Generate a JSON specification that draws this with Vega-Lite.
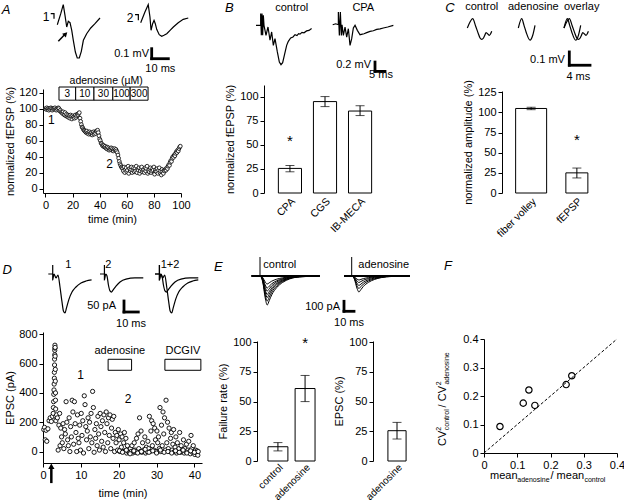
{
"$schema":"https://vega.github.io/schema/vega-lite/v6.json",
"padding":0,
"background":"white",
"bounds":"flush",
"spacing":0,
"config":{
 "font":"Liberation Sans",
 "view":{"stroke":null},
 "concat":{"spacing":0},
 "axis":{"domainColor":"black","tickColor":"black","labelColor":"black","titleColor":"black","labelFontSize":11,"titleFontSize":11,"titleFontWeight":"normal","grid":false,"tickSize":4,"labelPadding":2,"labelOverlap":false,"labelFlush":false},
 "text":{"color":"black","fontSize":11},
 "line":{"color":"black"},
 "rule":{"color":"black"},
 "tick":{"color":"black"}
},
"datasets":{
 "a":[{"t":0,"v":100},{"t":0.5,"v":99},{"t":1,"v":101},{"t":1.5,"v":99},{"t":2,"v":100},{"t":2.5,"v":98},{"t":3,"v":100},{"t":3.5,"v":99},{"t":4,"v":101},{"t":4.5,"v":100},{"t":5,"v":98},{"t":5.5,"v":100},{"t":6,"v":99},{"t":6.5,"v":100},{"t":7,"v":101},{"t":7.5,"v":99},{"t":8,"v":98},{"t":8.5,"v":100},{"t":9,"v":99},{"t":9.5,"v":101},
 {"t":10,"v":100},{"t":10.5,"v":97},{"t":11,"v":98},{"t":11.5,"v":96},{"t":12,"v":95},
 {"t":12.5,"v":94},{"t":13,"v":96},{"t":13.5,"v":93},{"t":14,"v":92},{"t":14.5,"v":95},{"t":15,"v":91},{"t":15.5,"v":93},{"t":16,"v":90},{"t":16.5,"v":92},{"t":17,"v":89},{"t":17.5,"v":91},{"t":18,"v":88},{"t":18.5,"v":92},{"t":19,"v":90},{"t":19.5,"v":87},{"t":20,"v":91},{"t":20.5,"v":89},{"t":21,"v":90},{"t":21.5,"v":88},{"t":22,"v":92},{"t":22.5,"v":89},{"t":23,"v":91},{"t":23.5,"v":93},{"t":24,"v":92},{"t":24.5,"v":94},
 {"t":25,"v":95},{"t":25.5,"v":88},{"t":26,"v":84},{"t":26.5,"v":80},{"t":27,"v":77},{"t":27.5,"v":76},{"t":28,"v":74},{"t":28.5,"v":73},{"t":29,"v":72},
 {"t":29.5,"v":71},{"t":30,"v":70},{"t":30.5,"v":72},{"t":31,"v":69},{"t":31.5,"v":70},{"t":32,"v":68},{"t":32.5,"v":71},{"t":33,"v":69},{"t":33.5,"v":68},{"t":34,"v":70},{"t":34.5,"v":67},{"t":35,"v":69},{"t":35.5,"v":71},{"t":36,"v":68},{"t":36.5,"v":70},{"t":37,"v":69},{"t":37.5,"v":72},{"t":38,"v":71},
 {"t":38.5,"v":73},{"t":39,"v":70},{"t":39.5,"v":66},{"t":40,"v":62},
 {"t":40.5,"v":60},{"t":41,"v":57},{"t":41.5,"v":56},{"t":42,"v":54},{"t":42.5,"v":53},{"t":43,"v":54},{"t":43.5,"v":52},{"t":44,"v":53},{"t":44.5,"v":51},
 {"t":45,"v":50},{"t":45.5,"v":52},{"t":46,"v":49},{"t":46.5,"v":51},{"t":47,"v":48},{"t":47.5,"v":50},{"t":48,"v":49},{"t":48.5,"v":51},{"t":49,"v":48},{"t":49.5,"v":50},{"t":50,"v":47},{"t":50.5,"v":49},{"t":51,"v":50},{"t":51.5,"v":48},{"t":52,"v":49},{"t":52.5,"v":47},
 {"t":53,"v":45},{"t":53.5,"v":42},{"t":54,"v":38},{"t":54.5,"v":34},{"t":55,"v":31},{"t":55.5,"v":29},{"t":56,"v":27},{"t":56.5,"v":26},
 {"t":57,"v":25},{"t":57.5,"v":22},{"t":58,"v":27},{"t":58.5,"v":20},{"t":59,"v":24},{"t":59.5,"v":26},{"t":60,"v":21},{"t":60.5,"v":23},{"t":61,"v":28},{"t":61.5,"v":19},
 {"t":62,"v":25},{"t":62.5,"v":22},{"t":63,"v":24},{"t":63.5,"v":27},{"t":64,"v":20},{"t":64.5,"v":23},{"t":65,"v":26},{"t":65.5,"v":21},{"t":66,"v":25},{"t":66.5,"v":22},
 {"t":67,"v":28},{"t":67.5,"v":20},{"t":68,"v":24},{"t":68.5,"v":23},{"t":69,"v":26},{"t":69.5,"v":19},{"t":70,"v":22},{"t":70.5,"v":25},{"t":71,"v":27},{"t":71.5,"v":21},
 {"t":72,"v":23},{"t":72.5,"v":24},{"t":73,"v":20},{"t":73.5,"v":26},{"t":74,"v":22},{"t":74.5,"v":25},{"t":75,"v":28},{"t":75.5,"v":19},{"t":76,"v":23},{"t":76.5,"v":21},
 {"t":77,"v":24},{"t":77.5,"v":26},{"t":78,"v":20},{"t":78.5,"v":22},{"t":79,"v":25},{"t":79.5,"v":23},{"t":80,"v":27},{"t":80.5,"v":18},{"t":81,"v":22},{"t":81.5,"v":24},
 {"t":82,"v":21},{"t":82.5,"v":25},{"t":83,"v":19},{"t":83.5,"v":23},{"t":84,"v":26},{"t":84.5,"v":20},{"t":85,"v":22},{"t":85.5,"v":17},{"t":86,"v":24},{"t":86.5,"v":21},
 {"t":87,"v":19},{"t":87.5,"v":23},{"t":88,"v":22},
 {"t":88.5,"v":24},{"t":89,"v":23},{"t":89.5,"v":26},{"t":90,"v":25},{"t":90.5,"v":28},{"t":91,"v":30},{"t":91.5,"v":29},{"t":92,"v":33},{"t":92.5,"v":35},{"t":93,"v":34},{"t":93.5,"v":38},{"t":94,"v":40},{"t":94.5,"v":39},{"t":95,"v":42},{"t":95.5,"v":41},{"t":96,"v":44},{"t":96.5,"v":46},{"t":97,"v":45},{"t":97.5,"v":48},{"t":98,"v":47},{"t":98.5,"v":50},{"t":99,"v":52},{"t":99.5,"v":53}],
 "aBox":[{"c":"3","s":10,"e":22.3},{"c":"10","s":22.3,"e":35.8},{"c":"30","s":35.8,"e":49.7},{"c":"100","s":49.7,"e":62.5},{"c":"300","s":62.5,"e":75.7}],
 "b":[{"d":"CPA","m":25.5,"lo":22,"hi":28.5},{"d":"CGS","m":94.8,"lo":89.6,"hi":100},{"d":"IB-MECA","m":85,"lo":80.3,"hi":90.5}],
 "c":[{"d":"fiber volley","m":105,"lo":103.5,"hi":106.5},{"d":"fEPSP","m":25,"lo":18.7,"hi":31}],
 "d":[{"t":0.2,"v":150},{"t":0.4,"v":165},{"t":0.6,"v":80},{"t":0.8,"v":145},{"t":1.0,"v":70},{"t":1.3,"v":155},{"t":1.6,"v":210},{"t":1.9,"v":230},{"t":2.2,"v":205},{"t":2.5,"v":240},
 {"t":2.7,"v":260},{"t":2.75,"v":300},{"t":2.8,"v":340},{"t":2.85,"v":390},{"t":2.9,"v":420},{"t":2.95,"v":460},{"t":3.0,"v":500},{"t":3.0,"v":540},{"t":3.05,"v":590},{"t":3.05,"v":630},{"t":3.1,"v":660},{"t":3.1,"v":690},{"t":3.15,"v":705},{"t":3.15,"v":725},{"t":3.2,"v":710},{"t":3.2,"v":650},{"t":3.25,"v":560},{"t":3.25,"v":480},{"t":3.3,"v":400},{"t":3.3,"v":350},{"t":3.35,"v":290},{"t":3.35,"v":240},{"t":3.4,"v":210},
 {"t":3.6,"v":250},{"t":3.8,"v":230},{"t":4.0,"v":10},{"t":4.2,"v":180},{"t":4.4,"v":260},{"t":4.5,"v":40},{"t":4.7,"v":160},{"t":4.9,"v":100},{"t":5.1,"v":60},{"t":5.3,"v":190},{"t":5.5,"v":20},{"t":5.7,"v":150},{"t":5.9,"v":120},{"t":6.1,"v":340},{"t":6.3,"v":200},{"t":6.5,"v":80},{"t":6.7,"v":40},{"t":6.9,"v":230},{"t":7.1,"v":0},{"t":7.3,"v":170},{"t":7.5,"v":100},{"t":7.7,"v":350},{"t":7.9,"v":270},{"t":8.1,"v":50},{"t":8.3,"v":340},{"t":8.5,"v":190},{"t":8.7,"v":130},{"t":8.9,"v":0},{"t":9.1,"v":250},{"t":9.3,"v":90},{"t":9.5,"v":60},{"t":9.7,"v":180},{"t":9.9,"v":10},{"t":10.1,"v":260},{"t":10.3,"v":110},{"t":10.5,"v":210},{"t":10.7,"v":-10},{"t":10.9,"v":380},{"t":11.1,"v":320},{"t":11.3,"v":170},{"t":11.5,"v":80},{"t":11.7,"v":140},{"t":11.9,"v":230},{"t":12.1,"v":20},{"t":12.3,"v":200},{"t":12.5,"v":100},{"t":12.7,"v":260},{"t":12.9,"v":60},{"t":13.1,"v":410},{"t":13.3,"v":300},{"t":13.5,"v":-5},{"t":13.7,"v":150},{"t":13.9,"v":90},{"t":14.1,"v":190},{"t":14.3,"v":40},{"t":14.5,"v":240},{"t":14.7,"v":120},{"t":14.9,"v":10},{"t":15.1,"v":260},{"t":15.3,"v":170},{"t":15.5,"v":70},{"t":15.7,"v":210},{"t":15.9,"v":30},{"t":16.1,"v":250},{"t":16.3,"v":130},{"t":16.5,"v":0},{"t":16.7,"v":270},{"t":16.9,"v":190},{"t":17.1,"v":60},{"t":17.3,"v":230},{"t":17.5,"v":110},{"t":17.7,"v":250},{"t":17.9,"v":20},{"t":18.1,"v":160},{"t":18.3,"v":220},{"t":18.5,"v":90},{"t":18.7,"v":240},{"t":18.9,"v":0},{"t":19.1,"v":130},{"t":19.3,"v":60},{"t":19.5,"v":110},{"t":19.7,"v":10},{"t":19.9,"v":150},{"t":20.1,"v":80},{"t":20.3,"v":0},{"t":20.5,"v":120},{"t":20.7,"v":30},{"t":20.9,"v":100},{"t":21.1,"v":0},{"t":21.3,"v":60},{"t":21.5,"v":130},{"t":21.7,"v":5},{"t":21.9,"v":90},{"t":22.1,"v":-10},{"t":22.3,"v":40},{"t":22.5,"v":0},{"t":22.7,"v":10},{"t":22.9,"v":-5},{"t":23.1,"v":20},{"t":23.3,"v":0},{"t":23.5,"v":40},{"t":23.7,"v":-10},{"t":23.9,"v":0},{"t":24.1,"v":60},{"t":24.3,"v":10},{"t":24.5,"v":-5},{"t":24.7,"v":90},{"t":24.9,"v":0},{"t":25.1,"v":120},{"t":25.3,"v":20},{"t":25.5,"v":230},{"t":25.7,"v":0},{"t":25.9,"v":140},{"t":26.1,"v":-5},{"t":26.3,"v":60},{"t":26.5,"v":10},{"t":26.7,"v":0},{"t":26.9,"v":100},{"t":27.1,"v":-10},{"t":27.3,"v":30},{"t":27.5,"v":0},{"t":27.7,"v":70},{"t":27.9,"v":20},{"t":28.1,"v":240},{"t":28.3,"v":0},{"t":28.5,"v":140},{"t":28.7,"v":210},{"t":28.9,"v":40},{"t":29.1,"v":190},{"t":29.3,"v":10},{"t":29.5,"v":160},{"t":29.7,"v":80},{"t":29.9,"v":0},{"t":30.1,"v":140},{"t":30.3,"v":60},{"t":30.5,"v":100},{"t":30.7,"v":20},{"t":30.9,"v":300},{"t":31.1,"v":0},{"t":31.3,"v":180},{"t":31.5,"v":40},{"t":31.7,"v":270},{"t":31.9,"v":120},{"t":32.1,"v":230},{"t":32.3,"v":10},{"t":32.5,"v":350},{"t":32.7,"v":60},{"t":32.9,"v":200},{"t":33.1,"v":20},{"t":33.3,"v":160},{"t":33.5,"v":0},{"t":33.7,"v":90},{"t":33.9,"v":130},{"t":34.1,"v":10},{"t":34.3,"v":50},{"t":34.5,"v":150},{"t":34.7,"v":0},{"t":34.9,"v":30},{"t":35.1,"v":100},{"t":35.3,"v":-10},{"t":35.5,"v":60},{"t":35.7,"v":0},{"t":35.9,"v":20},{"t":36.1,"v":130},{"t":36.3,"v":-5},{"t":36.5,"v":40},{"t":36.7,"v":0},{"t":36.9,"v":10},{"t":37.1,"v":80},{"t":37.3,"v":-10},{"t":37.5,"v":20},{"t":37.7,"v":0},{"t":37.9,"v":50},{"t":38.1,"v":-5},{"t":38.3,"v":10},{"t":38.5,"v":70},{"t":38.7,"v":0},{"t":38.9,"v":-15},{"t":39.1,"v":110},{"t":39.3,"v":20},{"t":39.5,"v":-5},{"t":39.7,"v":40},{"t":39.9,"v":0},{"t":40.1,"v":-20},{"t":40.3,"v":10},{"t":40.5,"v":-10},{"t":40.7,"v":5},{"t":40.9,"v":-25},
 {"t":20.2,"v":5},{"t":21.0,"v":-5},{"t":22.0,"v":10},{"t":23.0,"v":-15},{"t":24.0,"v":5},{"t":25.0,"v":-10},{"t":26.0,"v":0},{"t":27.0,"v":15},{"t":28.0,"v":-5},{"t":29.0,"v":5},{"t":30.0,"v":-10},{"t":31.0,"v":10},{"t":32.0,"v":-5},{"t":33.0,"v":0},{"t":34.0,"v":-10},{"t":35.0,"v":5},{"t":36.0,"v":-5},{"t":37.0,"v":10},{"t":38.0,"v":-10},{"t":39.0,"v":5},{"t":40.0,"v":-5},{"t":41.0,"v":0}],
 "dBox":[{"c":"adenosine","s":17.2,"e":23.4},{"c":"DCGIV","s":32.2,"e":41.7}],
 "e1":[{"d":"control","m":12,"lo":8.5,"hi":15.5},{"d":"adenosine","m":61,"lo":50,"hi":72}],
 "e2":[{"d":"adenosine","m":25.5,"lo":18.5,"hi":32.5}],
 "f":[{"x":0.048,"y":0.093},{"x":0.118,"y":0.175},{"x":0.135,"y":0.221},{"x":0.153,"y":0.167},{"x":0.247,"y":0.24},{"x":0.264,"y":0.271}],
 "tA1":[{"p":"s","t":-4.2,"v":0.11},{"p":"s","t":-2.1,"v":0.11},{"p":"s","t":-2.1,"v":0.06},
 {"p":"w","t":0,"v":0},{"p":"w","t":2.2,"v":0.11},{"p":"w","t":3.8,"v":0.2},{"p":"w","t":4.9,"v":0.094},{"p":"w","t":6.0,"v":-0.023},{"p":"w","t":7.0,"v":0.034},{"p":"w","t":8.1,"v":0.02},{"p":"w","t":9.2,"v":-0.056},{"p":"w","t":10.2,"v":-0.156},{"p":"w","t":11.5,"v":-0.273},{"p":"w","t":12.7,"v":-0.333},{"p":"w","t":14.0,"v":-0.333},{"p":"w","t":15.3,"v":-0.266},{"p":"w","t":16.6,"v":-0.156},{"p":"w","t":18.7,"v":-0.09},{"p":"w","t":21.3,"v":-0.033},{"p":"w","t":24.0,"v":0.01},{"p":"w","t":27.2,"v":0.067}],
 "tA2":[{"p":"s","t":-3.6,"v":0.08},{"p":"s","t":-1.5,"v":0.08},{"p":"s","t":-1.5,"v":0.024},
 {"p":"w","t":0,"v":0},{"p":"w","t":2.7,"v":0.107},{"p":"w","t":4.8,"v":0.18},{"p":"w","t":5.9,"v":0.057},{"p":"w","t":6.6,"v":-0.076},{"p":"w","t":7.6,"v":-0.01},{"p":"w","t":8.5,"v":0.024},{"p":"w","t":9.3,"v":-0.01},{"p":"w","t":10.2,"v":-0.066},{"p":"w","t":11.8,"v":-0.12},{"p":"w","t":13.4,"v":-0.136},{"p":"w","t":14.8,"v":-0.126},{"p":"w","t":16.6,"v":-0.11},{"p":"w","t":18.7,"v":-0.076},{"p":"w","t":20.8,"v":-0.043},{"p":"w","t":23.9,"v":0},{"p":"w","t":27.1,"v":0.034},{"p":"w","t":30.3,"v":0.047}],
 "tBc":[{"t":0,"v":0},{"t":2.33,"v":0},{"t":2.33,"v":0.25},{"t":2.67,"v":-0.214},{"t":3.0,"v":0.25},{"t":3.33,"v":-0.214},{"t":3.67,"v":0.214},{"t":4.0,"v":0},{"t":5.0,"v":-0.214},{"t":6.0,"v":-0.036},{"t":7.0,"v":-0.32},{"t":7.83,"v":-0.143},{"t":8.67,"v":-0.43},{"t":9.5,"v":-0.286},{"t":10.67,"v":-0.571},{"t":11.67,"v":-0.786},{"t":12.5,"v":-0.843},{"t":13.33,"v":-0.8},{"t":14.17,"v":-0.643},{"t":15.33,"v":-0.43},{"t":16.17,"v":-0.343},{"t":17.33,"v":-0.271},{"t":18.5,"v":-0.25},{"t":19.5,"v":-0.2},{"t":20.5,"v":-0.22},{"t":21.3,"v":-0.18},{"t":22,"v":-0.19},{"t":23,"v":-0.15},{"t":24,"v":-0.16},{"t":25.3,"v":-0.12},{"t":26.5,"v":-0.11},{"t":27.8,"v":-0.07}],
 "tBp":[{"t":0,"v":0},{"t":1.5,"v":0.02},{"t":2.83,"v":0},{"t":2.83,"v":0.27},{"t":3.33,"v":-0.23},{"t":3.83,"v":0.27},{"t":4.33,"v":-0.23},{"t":4.67,"v":0},{"t":5.33,"v":-0.23},{"t":6.17,"v":-0.05},{"t":7.0,"v":-0.264},{"t":7.83,"v":-0.086},{"t":8.67,"v":-0.443},{"t":9.5,"v":-0.3},{"t":10.33,"v":-0.071},{"t":11.17,"v":-0.014},{"t":12.33,"v":-0.121},{"t":13.67,"v":-0.214},{"t":15.67,"v":-0.193},{"t":17,"v":-0.17},{"t":18.67,"v":-0.143},{"t":20.3,"v":-0.13},{"t":22,"v":-0.1},{"t":23.7,"v":-0.09},{"t":25.33,"v":-0.071},{"t":27.5,"v":-0.05},{"t":30.33,"v":-0.014}],
 "tCc":[{"t":0,"v":0},{"t":0.52,"v":0.045},{"t":1.04,"v":0.07},{"t":1.6,"v":0.015},{"t":2.13,"v":-0.043},{"t":2.46,"v":-0.075},{"t":2.79,"v":-0.085},{"t":3.13,"v":-0.075},{"t":3.4,"v":-0.053},{"t":3.62,"v":-0.035},{"t":4.26,"v":-0.055},{"t":4.72,"v":-0.025}],
 "tCa":[{"t":0,"v":0},{"t":0.66,"v":0.07},{"t":1.1,"v":0.02},{"t":1.5,"v":-0.03},{"t":2.27,"v":-0.092},{"t":2.79,"v":-0.055},{"t":3.23,"v":0.02}],
 "tD1":[{"t":0,"v":0},{"t":3.1,"v":0},{"t":3.1,"v":41},{"t":3.1,"v":-27},{"t":4.0,"v":0},{"t":5.4,"v":-18},{"t":6.8,"v":-4.5},{"t":8.2,"v":-59},{"t":9.6,"v":-127},{"t":10.6,"v":-168},{"t":11.7,"v":-177},{"t":12.7,"v":-155},{"t":14.5,"v":-114},{"t":16.6,"v":-82},{"t":19.4,"v":-59},{"t":22.9,"v":-41},{"t":26.4,"v":-32},{"t":30.3,"v":-27}],
 "tD2":[{"t":0,"v":0},{"t":3.1,"v":0},{"t":3.1,"v":41},{"t":3.1,"v":-27},{"t":4.0,"v":0},{"t":4.9,"v":-9},{"t":5.9,"v":-50},{"t":7,"v":-77},{"t":8,"v":-82},{"t":9.1,"v":-73},{"t":11.2,"v":-55},{"t":14,"v":-36},{"t":18.2,"v":-23},{"t":24.5,"v":-18},{"t":30.3,"v":-18}],
 "tEc":[
 {"k":1,"t":0,"v":0},{"k":1,"t":8.3,"v":0},{"k":1,"t":11,"v":-58},{"k":1,"t":13.5,"v":-218},{"k":1,"t":15.5,"v":-290},{"k":1,"t":17.5,"v":-247},{"k":1,"t":20,"v":-189},{"k":1,"t":25,"v":-116},{"k":1,"t":31,"v":-64},{"k":1,"t":38,"v":-29},{"k":1,"t":48,"v":-9},{"k":1,"t":68,"v":0},
 {"k":2,"t":0,"v":0},{"k":2,"t":8.3,"v":0},{"k":2,"t":11,"v":-50},{"k":2,"t":13.5,"v":-188},{"k":2,"t":15.5,"v":-250},{"k":2,"t":17.5,"v":-213},{"k":2,"t":20,"v":-163},{"k":2,"t":25,"v":-100},{"k":2,"t":31,"v":-55},{"k":2,"t":38,"v":-25},{"k":2,"t":48,"v":-8},{"k":2,"t":68,"v":0},
 {"k":3,"t":0,"v":0},{"k":3,"t":8.3,"v":0},{"k":3,"t":11,"v":-43},{"k":3,"t":13.5,"v":-161},{"k":3,"t":15.5,"v":-215},{"k":3,"t":17.5,"v":-183},{"k":3,"t":20,"v":-140},{"k":3,"t":25,"v":-86},{"k":3,"t":31,"v":-47},{"k":3,"t":38,"v":-22},{"k":3,"t":48,"v":-6},{"k":3,"t":68,"v":0},
 {"k":4,"t":0,"v":0},{"k":4,"t":8.3,"v":0},{"k":4,"t":11,"v":-37},{"k":4,"t":13.5,"v":-139},{"k":4,"t":15.5,"v":-185},{"k":4,"t":17.5,"v":-157},{"k":4,"t":20,"v":-120},{"k":4,"t":25,"v":-74},{"k":4,"t":31,"v":-41},{"k":4,"t":38,"v":-19},{"k":4,"t":48,"v":-6},{"k":4,"t":68,"v":0},
 {"k":5,"t":0,"v":0},{"k":5,"t":8.3,"v":0},{"k":5,"t":11,"v":-30},{"k":5,"t":13.5,"v":-113},{"k":5,"t":15.5,"v":-150},{"k":5,"t":17.5,"v":-128},{"k":5,"t":20,"v":-98},{"k":5,"t":25,"v":-60},{"k":5,"t":31,"v":-33},{"k":5,"t":38,"v":-15},{"k":5,"t":48,"v":-5},{"k":5,"t":68,"v":0},
 {"k":6,"t":0,"v":0},{"k":6,"t":8.3,"v":0},{"k":6,"t":11,"v":-24},{"k":6,"t":13.5,"v":-90},{"k":6,"t":15.5,"v":-120},{"k":6,"t":17.5,"v":-102},{"k":6,"t":20,"v":-78},{"k":6,"t":25,"v":-48},{"k":6,"t":31,"v":-26},{"k":6,"t":38,"v":-12},{"k":6,"t":48,"v":-4},{"k":6,"t":68,"v":0},
 {"k":7,"t":0,"v":0},{"k":7,"t":8.3,"v":0},{"k":7,"t":11,"v":-16},{"k":7,"t":13.5,"v":-60},{"k":7,"t":15.5,"v":-80},{"k":7,"t":17.5,"v":-68},{"k":7,"t":20,"v":-52},{"k":7,"t":25,"v":-32},{"k":7,"t":31,"v":-18},{"k":7,"t":38,"v":-8},{"k":7,"t":48,"v":-2},{"k":7,"t":68,"v":0},
 {"k":8,"t":0,"v":5},{"k":8,"t":68,"v":5}],
 "tEa":[
 {"k":1,"t":0,"v":0},{"k":1,"t":7.7,"v":0},{"k":1,"t":10.4,"v":-32},{"k":1,"t":12.9,"v":-120},{"k":1,"t":14.9,"v":-160},{"k":1,"t":16.9,"v":-136},{"k":1,"t":19.4,"v":-104},{"k":1,"t":24.4,"v":-64},{"k":1,"t":30.4,"v":-35},{"k":1,"t":37.4,"v":-16},{"k":1,"t":47.4,"v":-5},{"k":1,"t":66,"v":0},
 {"k":2,"t":0,"v":0},{"k":2,"t":7.7,"v":0},{"k":2,"t":10.4,"v":-25},{"k":2,"t":12.9,"v":-94},{"k":2,"t":14.9,"v":-125},{"k":2,"t":16.9,"v":-106},{"k":2,"t":19.4,"v":-81},{"k":2,"t":24.4,"v":-50},{"k":2,"t":30.4,"v":-28},{"k":2,"t":37.4,"v":-13},{"k":2,"t":47.4,"v":-4},{"k":2,"t":66,"v":0},
 {"k":3,"t":0,"v":0},{"k":3,"t":7.7,"v":0},{"k":3,"t":10.4,"v":-19},{"k":3,"t":12.9,"v":-71},{"k":3,"t":14.9,"v":-95},{"k":3,"t":16.9,"v":-81},{"k":3,"t":19.4,"v":-62},{"k":3,"t":24.4,"v":-38},{"k":3,"t":30.4,"v":-21},{"k":3,"t":37.4,"v":-10},{"k":3,"t":47.4,"v":-3},{"k":3,"t":66,"v":0},
 {"k":4,"t":0,"v":0},{"k":4,"t":7.7,"v":0},{"k":4,"t":10.4,"v":-13},{"k":4,"t":12.9,"v":-49},{"k":4,"t":14.9,"v":-65},{"k":4,"t":16.9,"v":-55},{"k":4,"t":19.4,"v":-42},{"k":4,"t":24.4,"v":-26},{"k":4,"t":30.4,"v":-14},{"k":4,"t":37.4,"v":-7},{"k":4,"t":47.4,"v":-2},{"k":4,"t":66,"v":0},
 {"k":5,"t":0,"v":0},{"k":5,"t":7.7,"v":0},{"k":5,"t":10.4,"v":-8},{"k":5,"t":12.9,"v":-30},{"k":5,"t":14.9,"v":-40},{"k":5,"t":16.9,"v":-34},{"k":5,"t":19.4,"v":-26},{"k":5,"t":24.4,"v":-16},{"k":5,"t":30.4,"v":-9},{"k":5,"t":37.4,"v":-4},{"k":5,"t":47.4,"v":-1},{"k":5,"t":66,"v":0},
 {"k":6,"t":0,"v":5},{"k":6,"t":66,"v":5}]
},
"vconcat":[
{"bounds":"flush","spacing":0,"hconcat":[{"width":40,"height":1,"mark":"point","data":{"values":[]}},{"bounds":"flush","spacing":0,"vconcat":[{"width":1,"height":1,"mark":"point","data":{"values":[]}},
 {"width":65,"height":59,"layer":[
  {"data":{"name":"tA1"},"mark":{"type":"line","strokeWidth":1.2,"color":"black"},"encoding":{"x":{"field":"t","type":"quantitative","scale":{"domain":[-11.02,30.38],"nice":false,"zero":false},"axis":null},"y":{"field":"v","type":"quantitative","scale":{"domain":[-0.373,0.217],"nice":false,"zero":false},"axis":null},"detail":{"field":"p"},"order":{"value":null}}},
  {"data":{"values":[{}]},"mark":{"type":"text","text":"1","fontSize":12},"encoding":{"x":{"datum":-7.2,"axis":null},"y":{"datum":0.077,"axis":null}}},
  {"data":{"values":[{}]},"mark":{"type":"text","text":"A","fontSize":13,"fontStyle":"italic"},"encoding":{"x":{"datum":-32.7,"axis":null},"y":{"datum":0.147,"axis":null}}},
  {"data":{"values":[{}]},"mark":{"type":"rule","strokeWidth":1.5,"color":"black"},"encoding":{"x":{"datum":0.64,"axis":null},"y":{"datum":-0.166,"axis":null},"x2":{"datum":4.6},"y2":{"datum":-0.1}}},
  {"data":{"values":[{}]},"mark":{"type":"point","shape":"triangle-up","angle":45,"filled":true,"color":"black","size":28,"opacity":1},"encoding":{"x":{"datum":5.3,"axis":null},"y":{"datum":-0.092,"axis":null}}}
 ]}]}]},
{"bounds":"flush","spacing":0,"hconcat":[{"width":125,"height":1,"mark":"point","data":{"values":[]}},{"bounds":"flush","spacing":0,"vconcat":[{"width":1,"height":1,"mark":"point","data":{"values":[]}},
 {"width":67,"height":75,"layer":[
  {"data":{"name":"tA2"},"mark":{"type":"line","strokeWidth":1.2,"color":"black"},"encoding":{"x":{"field":"t","type":"quantitative","scale":{"domain":[-10.0,32.68],"nice":false,"zero":false},"axis":null},"y":{"field":"v","type":"quantitative","scale":{"domain":[-0.553,0.197],"nice":false,"zero":false},"axis":null},"detail":{"field":"p"},"order":{"value":null}}},
  {"data":{"values":[{}]},"mark":{"type":"text","text":"2","fontSize":12},"encoding":{"x":{"datum":-6.8,"axis":null},"y":{"datum":0.047,"axis":null}}},
  {"data":{"values":[{}]},"mark":{"type":"rule","strokeWidth":2.8,"strokeCap":"square","color":"black"},"encoding":{"x":{"datum":7.0,"axis":null},"y":{"datum":-0.26,"axis":null},"y2":{"datum":-0.36}}},
  {"data":{"values":[{}]},"mark":{"type":"rule","strokeWidth":2.8,"strokeCap":"square","color":"black"},"encoding":{"x":{"datum":7.0,"axis":null},"x2":{"datum":17.6},"y":{"datum":-0.36,"axis":null}}},
  {"data":{"values":[{}]},"mark":{"type":"text","text":"0.1 mV","align":"right"},"encoding":{"x":{"datum":5.3,"axis":null},"y":{"datum":-0.313,"axis":null}}},
  {"data":{"values":[{}]},"mark":{"type":"text","text":"10 ms"},"encoding":{"x":{"datum":12.5,"axis":null},"y":{"datum":-0.46,"axis":null}}}
 ]}]}]},
{"bounds":"flush","spacing":0,"hconcat":[{"width":43,"height":1,"mark":"point","data":{"values":[]}},{"bounds":"flush","spacing":0,"vconcat":[{"width":1,"height":87,"mark":"point","data":{"values":[]}},
 {"width":138,"height":104,"layer":[
  {"data":{"name":"a"},"mark":{"type":"point","shape":"circle","filled":true,"fill":"white","stroke":"black","strokeWidth":0.8,"size":14,"opacity":1},"encoding":{"x":{"field":"t","type":"quantitative","scale":{"domain":[-1.8,100],"nice":false,"zero":false},"axis":{"values":[0,20,40,60,80,100],"tickCount":30,"labelOverlap":false,"title":"time (min)","titlePadding":3}},"y":{"field":"v","type":"quantitative","scale":{"domain":[-5.5,124.5],"nice":false,"zero":false},"axis":{"values":[0,20,40,60,80,100,120],"tickCount":30,"labelOverlap":false,"title":"normalized fEPSP (%)","titlePadding":3}}}},
  {"data":{"name":"aBox"},"mark":{"type":"rect","fill":"white","stroke":"black","strokeWidth":1},"encoding":{"x":{"field":"s","type":"quantitative"},"x2":{"field":"e"},"y":{"datum":110.5},"y2":{"datum":127}}},
  {"data":{"name":"aBox"},"transform":[{"calculate":"(datum.s+datum.e)/2","as":"m"}],"mark":{"type":"text","fontSize":10},"encoding":{"x":{"field":"m","type":"quantitative"},"y":{"datum":118.7},"text":{"field":"c"}}},
  {"data":{"values":[{}]},"mark":{"type":"text","text":"adenosine (µM)","fontSize":10.5},"encoding":{"x":{"datum":44.8},"y":{"datum":134.6}}},
  {"data":{"values":[{}]},"mark":{"type":"text","text":"1","fontSize":12},"encoding":{"x":{"datum":4.4},"y":{"datum":85.5}}},
  {"data":{"values":[{}]},"mark":{"type":"text","text":"2","fontSize":12},"encoding":{"x":{"datum":47.3},"y":{"datum":30.5}}}
 ]}]}]},
{"bounds":"flush","spacing":0,"hconcat":[{"width":252,"height":1,"mark":"point","data":{"values":[]}},{"bounds":"flush","spacing":0,"vconcat":[{"width":1,"height":1,"mark":"point","data":{"values":[]}},
 {"width":63,"height":69,"layer":[
  {"data":{"name":"tBc"},"mark":{"type":"line","strokeWidth":1.2,"color":"black"},"encoding":{"x":{"field":"t","type":"quantitative","scale":{"domain":[-2,29.5],"nice":false,"zero":false},"axis":null},"y":{"field":"v","type":"quantitative","scale":{"domain":[-1.0,0.4775],"nice":false,"zero":false},"axis":null},"order":{"value":null}}},
  {"data":{"values":[{}]},"mark":{"type":"text","text":"control"},"encoding":{"x":{"datum":17.85,"axis":null},"y":{"datum":0.37,"axis":null}}},
  {"data":{"values":[{}]},"mark":{"type":"text","text":"B","fontSize":13,"fontStyle":"italic"},"encoding":{"x":{"datum":-13.35,"axis":null},"y":{"datum":0.37,"axis":null}}}
 ]}]}]},
{"bounds":"flush","spacing":0,"hconcat":[{"width":328,"height":1,"mark":"point","data":{"values":[]}},{"bounds":"flush","spacing":0,"vconcat":[{"width":1,"height":1,"mark":"point","data":{"values":[]}},
 {"width":67,"height":76,"layer":[
  {"data":{"name":"tBp"},"mark":{"type":"line","strokeWidth":1.2,"color":"black"},"encoding":{"x":{"field":"t","type":"quantitative","scale":{"domain":[-2.35,31.15],"nice":false,"zero":false},"axis":null},"y":{"field":"v","type":"quantitative","scale":{"domain":[-1.163,0.465],"nice":false,"zero":false},"axis":null},"order":{"value":null}}},
  {"data":{"values":[{}]},"mark":{"type":"text","text":"CPA"},"encoding":{"x":{"datum":15.3,"axis":null},"y":{"datum":0.357,"axis":null}}},
  {"data":{"values":[{}]},"mark":{"type":"rule","strokeWidth":2.8,"strokeCap":"square","color":"black"},"encoding":{"x":{"datum":21.15,"axis":null},"y":{"datum":-0.8,"axis":null},"y2":{"datum":-1.0}}},
  {"data":{"values":[{}]},"mark":{"type":"rule","strokeWidth":2.8,"strokeCap":"square","color":"black"},"encoding":{"x":{"datum":21.15,"axis":null},"x2":{"datum":26.15},"y":{"datum":-1.0,"axis":null}}},
  {"data":{"values":[{}]},"mark":{"type":"text","text":"0.2 mV","align":"right"},"encoding":{"x":{"datum":19.15,"axis":null},"y":{"datum":-0.87,"axis":null}}},
  {"data":{"values":[{}]},"mark":{"type":"text","text":"5 ms"},"encoding":{"x":{"datum":24.15,"axis":null},"y":{"datum":-1.07,"axis":null}}}
 ]}]}]},
{"bounds":"flush","spacing":0,"hconcat":[{"width":264,"height":1,"mark":"point","data":{"values":[]}},{"bounds":"flush","spacing":0,"vconcat":[{"width":1,"height":83,"mark":"point","data":{"values":[]}},
 {"width":122,"height":108,"data":{"name":"b"},"layer":[
  {"mark":{"type":"bar","fill":"white","stroke":"black","strokeWidth":1},"encoding":{"x":{"field":"d","type":"nominal","scale":{"domain":["CPA","CGS","IB-MECA"],"paddingInner":0.34,"paddingOuter":0.41},"axis":{"title":null,"domain":false,"ticks":false,"labelAngle":-45,"labelAlign":"right","labelBaseline":"top","labelPadding":3,"labelFontSize":10.5}},"y":{"field":"m","type":"quantitative","scale":{"domain":[0,112],"nice":false},"axis":{"values":[0,25,50,75,100],"tickCount":30,"labelOverlap":false,"title":"normalized fEPSP (%)","titlePadding":4}}}},
  {"mark":{"type":"rule","color":"black"},"encoding":{"x":{"field":"d","type":"nominal"},"y":{"field":"lo","type":"quantitative"},"y2":{"field":"hi"}}},
  {"mark":{"type":"tick","orient":"horizontal","size":9,"thickness":1,"color":"black"},"encoding":{"x":{"field":"d","type":"nominal"},"y":{"field":"lo","type":"quantitative"}}},
  {"mark":{"type":"tick","orient":"horizontal","size":9,"thickness":1,"color":"black"},"encoding":{"x":{"field":"d","type":"nominal"},"y":{"field":"hi","type":"quantitative"}}},
  {"data":{"values":[{}]},"mark":{"type":"text","text":"*","fontSize":15},"encoding":{"x":{"datum":"CPA"},"y":{"datum":54}}}
 ]}]}]},
{"bounds":"flush","spacing":0,"hconcat":[{"width":462,"height":1,"mark":"point","data":{"values":[]}},{"bounds":"flush","spacing":0,"vconcat":[{"width":1,"height":1,"mark":"point","data":{"values":[]}},
 {"width":38,"height":44,"layer":[
  {"data":{"name":"tCc"},"mark":{"type":"line","strokeWidth":1.2,"color":"black","interpolate":"monotone"},"encoding":{"x":{"field":"t","type":"quantitative","scale":{"domain":[-1.03,6.32],"nice":false,"zero":false},"axis":null},"y":{"field":"v","type":"quantitative","scale":{"domain":[-0.143,0.188],"nice":false,"zero":false},"axis":null}}},
  {"data":{"values":[{}]},"mark":{"type":"text","text":"control"},"encoding":{"x":{"datum":2.79,"axis":null},"y":{"datum":0.158,"axis":null}}},
  {"data":{"values":[{}]},"mark":{"type":"text","text":"C","fontSize":13,"fontStyle":"italic"},"encoding":{"x":{"datum":-3.35,"axis":null},"y":{"datum":0.15,"axis":null}}}
 ]}]}]},
{"bounds":"flush","spacing":0,"hconcat":[{"width":510,"height":1,"mark":"point","data":{"values":[]}},{"bounds":"flush","spacing":0,"vconcat":[{"width":1,"height":1,"mark":"point","data":{"values":[]}},
 {"width":40,"height":44,"layer":[
  {"data":{"name":"tCa"},"mark":{"type":"line","strokeWidth":1.2,"color":"black","interpolate":"monotone"},"encoding":{"x":{"field":"t","type":"quantitative","scale":{"domain":[-1.61,6.13],"nice":false,"zero":false},"axis":null},"y":{"field":"v","type":"quantitative","scale":{"domain":[-0.143,0.188],"nice":false,"zero":false},"axis":null}}},
  {"data":{"values":[{}]},"mark":{"type":"text","text":"adenosine"},"encoding":{"x":{"datum":2.9,"axis":null},"y":{"datum":0.158,"axis":null}}}
 ]}]}]},
{"bounds":"flush","spacing":0,"hconcat":[{"width":557,"height":1,"mark":"point","data":{"values":[]}},{"bounds":"flush","spacing":0,"vconcat":[{"width":1,"height":1,"mark":"point","data":{"values":[]}},
 {"width":48,"height":79,"layer":[
  {"data":{"name":"tCc"},"mark":{"type":"line","strokeWidth":1.2,"color":"black","interpolate":"monotone"},"encoding":{"x":{"field":"t","type":"quantitative","scale":{"domain":[-1.35,7.93],"nice":false,"zero":false},"axis":null},"y":{"field":"v","type":"quantitative","scale":{"domain":[-0.406,0.188],"nice":false,"zero":false},"axis":null}}},
  {"data":{"name":"tCa"},"mark":{"type":"line","strokeWidth":1.2,"color":"black","interpolate":"monotone"},"encoding":{"x":{"field":"t","type":"quantitative","axis":null},"y":{"field":"v","type":"quantitative","axis":null}}},
  {"data":{"values":[{}]},"mark":{"type":"text","text":"overlay"},"encoding":{"x":{"datum":3.42,"axis":null},"y":{"datum":0.158,"axis":null}}},
  {"data":{"values":[{}]},"mark":{"type":"rule","strokeWidth":2.8,"strokeCap":"square","color":"black"},"encoding":{"x":{"datum":1.03,"axis":null},"y":{"datum":-0.18,"axis":null},"y2":{"datum":-0.28}}},
  {"data":{"values":[{}]},"mark":{"type":"rule","strokeWidth":2.8,"strokeCap":"square","color":"black"},"encoding":{"x":{"datum":1.03,"axis":null},"x2":{"datum":5.03},"y":{"datum":-0.28,"axis":null}}},
  {"data":{"values":[{}]},"mark":{"type":"text","text":"0.1 mV","align":"right"},"encoding":{"x":{"datum":0.19,"axis":null},"y":{"datum":-0.24,"axis":null}}},
  {"data":{"values":[{}]},"mark":{"type":"text","text":"4 ms"},"encoding":{"x":{"datum":2.77,"axis":null},"y":{"datum":-0.368,"axis":null}}}
 ]}]}]},
{"bounds":"flush","spacing":0,"hconcat":[{"width":502,"height":1,"mark":"point","data":{"values":[]}},{"bounds":"flush","spacing":0,"vconcat":[{"width":1,"height":89,"mark":"point","data":{"values":[]}},
 {"width":104,"height":102,"data":{"name":"c"},"layer":[
  {"transform":[{"filter":"datum.d=='fiber volley'"}],"mark":{"type":"bar","fill":"white","stroke":"black","strokeWidth":1,"width":31},"encoding":{"x":{"field":"d","type":"nominal","scale":{"domain":["fiber volley","fEPSP"],"paddingInner":0.5,"paddingOuter":0.387},"axis":{"title":null,"domain":false,"ticks":false,"labelAngle":-45,"labelAlign":"right","labelBaseline":"top","labelPadding":3,"labelFontSize":10.5}},"y":{"field":"m","type":"quantitative","scale":{"domain":[0,126.7],"nice":false},"axis":{"values":[0,25,50,75,100,125],"tickCount":30,"labelOverlap":false,"title":"normalized amplitude (%)","titlePadding":4}}}},
  {"transform":[{"filter":"datum.d=='fEPSP'"}],"mark":{"type":"bar","fill":"white","stroke":"black","strokeWidth":1,"width":22},"encoding":{"x":{"field":"d","type":"nominal"},"y":{"field":"m","type":"quantitative"}}},
  {"mark":{"type":"rule","color":"black"},"encoding":{"x":{"field":"d","type":"nominal"},"y":{"field":"lo","type":"quantitative"},"y2":{"field":"hi"}}},
  {"mark":{"type":"tick","orient":"horizontal","size":9,"thickness":1,"color":"black"},"encoding":{"x":{"field":"d","type":"nominal"},"y":{"field":"lo","type":"quantitative"}}},
  {"mark":{"type":"tick","orient":"horizontal","size":9,"thickness":1,"color":"black"},"encoding":{"x":{"field":"d","type":"nominal"},"y":{"field":"hi","type":"quantitative"}}},
  {"data":{"values":[{}]},"mark":{"type":"text","text":"*","fontSize":15},"encoding":{"x":{"datum":"fEPSP"},"y":{"datum":66}}}
 ]}]}]},
{"bounds":"flush","spacing":0,"hconcat":[{"width":45,"height":1,"mark":"point","data":{"values":[]}},{"bounds":"flush","spacing":0,"vconcat":[{"width":1,"height":255,"mark":"point","data":{"values":[]}},
 {"width":52,"height":65,"layer":[
  {"data":{"name":"tD1"},"mark":{"type":"line","strokeWidth":1.2,"color":"black","interpolate":"monotone"},"encoding":{"x":{"field":"t","type":"quantitative","scale":{"domain":[-2.3,34.1],"nice":false,"zero":false},"axis":null},"y":{"field":"v","type":"quantitative","scale":{"domain":[-218.2,77.3],"nice":false,"zero":false},"axis":null},"order":{"value":null}}},
  {"data":{"values":[{}]},"mark":{"type":"text","text":"1"},"encoding":{"x":{"datum":14,"axis":null},"y":{"datum":39.5,"axis":null}}},
  {"data":{"values":[{}]},"mark":{"type":"text","text":"D","fontSize":13,"fontStyle":"italic"},"encoding":{"x":{"datum":-28.7,"axis":null},"y":{"datum":16.8,"axis":null}}}
 ]}]}]},
{"bounds":"flush","spacing":0,"hconcat":[{"width":97,"height":1,"mark":"point","data":{"values":[]}},{"bounds":"flush","spacing":0,"vconcat":[{"width":1,"height":255,"mark":"point","data":{"values":[]}},
 {"width":53,"height":75,"layer":[
  {"data":{"name":"tD2"},"mark":{"type":"line","strokeWidth":1.2,"color":"black","interpolate":"monotone"},"encoding":{"x":{"field":"t","type":"quantitative","scale":{"domain":[-2.1,35],"nice":false,"zero":false},"axis":null},"y":{"field":"v","type":"quantitative","scale":{"domain":[-263.6,77.3],"nice":false,"zero":false},"axis":null},"order":{"value":null}}},
  {"data":{"values":[{}]},"mark":{"type":"text","text":"2"},"encoding":{"x":{"datum":5.8,"axis":null},"y":{"datum":39.5,"axis":null}}},
  {"data":{"values":[{}]},"mark":{"type":"rule","strokeWidth":2.8,"strokeCap":"square","color":"black"},"encoding":{"x":{"datum":16.8,"axis":null},"y":{"datum":-122.7,"axis":null},"y2":{"datum":-172.7}}},
  {"data":{"values":[{}]},"mark":{"type":"rule","strokeWidth":2.8,"strokeCap":"square","color":"black"},"encoding":{"x":{"datum":16.8,"axis":null},"x2":{"datum":26.8},"y":{"datum":-172.7,"axis":null}}},
  {"data":{"values":[{}]},"mark":{"type":"text","text":"50 pA","align":"right"},"encoding":{"x":{"datum":11.2,"axis":null},"y":{"datum":-145,"axis":null}}},
  {"data":{"values":[{}]},"mark":{"type":"text","text":"10 ms"},"encoding":{"x":{"datum":21.7,"axis":null},"y":{"datum":-227,"axis":null}}}
 ]}]}]},
{"bounds":"flush","spacing":0,"hconcat":[{"width":152,"height":1,"mark":"point","data":{"values":[]}},{"bounds":"flush","spacing":0,"vconcat":[{"width":1,"height":255,"mark":"point","data":{"values":[]}},
 {"width":53,"height":65,"layer":[
  {"data":{"name":"tD1"},"mark":{"type":"line","strokeWidth":1.2,"color":"black","interpolate":"monotone"},"encoding":{"x":{"field":"t","type":"quantitative","scale":{"domain":[-2.1,35],"nice":false,"zero":false},"axis":null},"y":{"field":"v","type":"quantitative","scale":{"domain":[-218.2,77.3],"nice":false,"zero":false},"axis":null},"order":{"value":null}}},
  {"data":{"name":"tD2"},"mark":{"type":"line","strokeWidth":1.2,"color":"black","interpolate":"monotone"},"encoding":{"x":{"field":"t","type":"quantitative","axis":null},"y":{"field":"v","type":"quantitative","axis":null},"order":{"value":null}}},
  {"data":{"values":[{}]},"mark":{"type":"text","text":"1+2"},"encoding":{"x":{"datum":10.5,"axis":null},"y":{"datum":39.5,"axis":null}}}
 ]}]}]},
{"bounds":"flush","spacing":0,"hconcat":[{"width":43,"height":1,"mark":"point","data":{"values":[]}},{"bounds":"flush","spacing":0,"vconcat":[{"width":1,"height":330,"mark":"point","data":{"values":[]}},
 {"width":159,"height":131,"layer":[
  {"data":{"name":"d"},"mark":{"type":"point","shape":"circle","filled":true,"fill":"white","stroke":"black","strokeWidth":0.9,"size":18,"opacity":1},"encoding":{"x":{"field":"t","type":"quantitative","scale":{"domain":[0,42],"nice":false,"zero":false},"axis":{"values":[0,10,20,30,40],"tickCount":30,"labelOverlap":false,"title":"time (min)","titlePadding":7}},"y":{"field":"v","type":"quantitative","scale":{"domain":[-78,815],"nice":false,"zero":false},"axis":{"values":[0,200,400,600,800],"tickCount":30,"labelOverlap":false,"title":"EPSC (pA)","titlePadding":3}}}},
  {"data":{"name":"dBox"},"mark":{"type":"rect","fill":"white","stroke":"black","strokeWidth":1},"encoding":{"x":{"field":"s","type":"quantitative"},"x2":{"field":"e"},"y":{"datum":554},"y2":{"datum":629}}},
  {"data":{"name":"dBox"},"transform":[{"calculate":"(datum.s+datum.e)/2","as":"m"}],"mark":{"type":"text","fontSize":11},"encoding":{"x":{"field":"m","type":"quantitative"},"y":{"datum":685},"text":{"field":"c"}}},
  {"data":{"values":[{}]},"mark":{"type":"text","text":"1","fontSize":12},"encoding":{"x":{"datum":9.9},"y":{"datum":519}}},
  {"data":{"values":[{}]},"mark":{"type":"text","text":"2","fontSize":12},"encoding":{"x":{"datum":22.5},"y":{"datum":355}}},
  {"data":{"values":[{}]},"mark":{"type":"rule","strokeWidth":2.5,"color":"black"},"encoding":{"x":{"datum":2.2},"y":{"datum":-215},"y2":{"datum":-110}}},
  {"data":{"values":[{}]},"mark":{"type":"point","shape":"triangle-up","filled":true,"color":"black","size":40,"opacity":1},"encoding":{"x":{"datum":2.2},"y":{"datum":-100}}}
 ]}]}]},
{"bounds":"flush","spacing":0,"hconcat":[{"width":245,"height":1,"mark":"point","data":{"values":[]}},{"bounds":"flush","spacing":0,"vconcat":[{"width":1,"height":252,"mark":"point","data":{"values":[]}},
 {"width":80,"height":58,"layer":[
  {"data":{"name":"tEc"},"mark":{"type":"line","strokeWidth":1,"color":"black","interpolate":"monotone"},"encoding":{"x":{"field":"t","type":"quantitative","scale":{"domain":[-6.7,73.3],"nice":false,"zero":false},"axis":null},"y":{"field":"v","type":"quantitative","scale":{"domain":[-360,220],"nice":false,"zero":false},"axis":null},"detail":{"field":"k"},"order":{"value":null}}},
  {"data":{"values":[{}]},"mark":{"type":"rule","strokeWidth":1,"color":"black"},"encoding":{"x":{"datum":8.3,"axis":null},"y":{"datum":0,"axis":null},"y2":{"datum":190}}},
  {"data":{"values":[{}]},"mark":{"type":"rule","strokeWidth":2,"color":"black"},"encoding":{"x":{"datum":0,"axis":null},"x2":{"datum":68},"y":{"datum":0,"axis":null}}},
  {"data":{"values":[{}]},"mark":{"type":"text","text":"E","fontSize":13,"fontStyle":"italic"},"encoding":{"x":{"datum":-33.4,"axis":null},"y":{"datum":90,"axis":null}}},
  {"data":{"values":[{}]},"mark":{"type":"text","text":"control","align":"left"},"encoding":{"x":{"datum":11.6,"axis":null},"y":{"datum":107,"axis":null}}}
 ]}]}]},
{"bounds":"flush","spacing":0,"hconcat":[{"width":338,"height":1,"mark":"point","data":{"values":[]}},{"bounds":"flush","spacing":0,"vconcat":[{"width":1,"height":252,"mark":"point","data":{"values":[]}},
 {"width":74,"height":73,"layer":[
  {"data":{"name":"tEa"},"mark":{"type":"line","strokeWidth":1,"color":"black","interpolate":"monotone"},"encoding":{"x":{"field":"t","type":"quantitative","scale":{"domain":[-6,68],"nice":false,"zero":false},"axis":null},"y":{"field":"v","type":"quantitative","scale":{"domain":[-510,220],"nice":false,"zero":false},"axis":null},"detail":{"field":"k"},"order":{"value":null}}},
  {"data":{"values":[{}]},"mark":{"type":"rule","strokeWidth":1,"color":"black"},"encoding":{"x":{"datum":7.7,"axis":null},"y":{"datum":0,"axis":null},"y2":{"datum":190}}},
  {"data":{"values":[{}]},"mark":{"type":"rule","strokeWidth":2,"color":"black"},"encoding":{"x":{"datum":0,"axis":null},"x2":{"datum":66},"y":{"datum":0,"axis":null}}},
  {"data":{"values":[{}]},"mark":{"type":"text","text":"adenosine","align":"left"},"encoding":{"x":{"datum":14.3,"axis":null},"y":{"datum":107,"axis":null}}},
  {"data":{"values":[{}]},"mark":{"type":"rule","strokeWidth":2.8,"strokeCap":"square","color":"black"},"encoding":{"x":{"datum":0,"axis":null},"y":{"datum":-253,"axis":null},"y2":{"datum":-353}}},
  {"data":{"values":[{}]},"mark":{"type":"rule","strokeWidth":2.8,"strokeCap":"square","color":"black"},"encoding":{"x":{"datum":0,"axis":null},"x2":{"datum":10},"y":{"datum":-353,"axis":null}}},
  {"data":{"values":[{}]},"mark":{"type":"text","text":"100 pA","align":"right"},"encoding":{"x":{"datum":-4,"axis":null},"y":{"datum":-305,"axis":null}}},
  {"data":{"values":[{}]},"mark":{"type":"text","text":"10 ms"},"encoding":{"x":{"datum":5,"axis":null},"y":{"datum":-467,"axis":null}}}
 ]}]}]},
{"bounds":"flush","spacing":0,"hconcat":[{"width":257,"height":1,"mark":"point","data":{"values":[]}},{"bounds":"flush","spacing":0,"vconcat":[{"width":1,"height":339,"mark":"point","data":{"values":[]}},
 {"width":69,"height":120,"data":{"name":"e1"},"layer":[
  {"mark":{"type":"bar","fill":"white","stroke":"black","strokeWidth":1},"encoding":{"x":{"field":"d","type":"nominal","scale":{"domain":["control","adenosine"],"paddingInner":0.265,"paddingOuter":0.404},"axis":{"title":null,"domain":false,"ticks":false,"labelAngle":-45,"labelAlign":"right","labelBaseline":"top","labelPadding":1,"labelFontSize":10}},"y":{"field":"m","type":"quantitative","scale":{"domain":[0,101],"nice":false},"axis":{"values":[0,25,50,75,100],"tickCount":30,"labelOverlap":false,"title":"Failure rate (%)","titlePadding":4}}}},
  {"mark":{"type":"rule","color":"black"},"encoding":{"x":{"field":"d","type":"nominal"},"y":{"field":"lo","type":"quantitative"},"y2":{"field":"hi"}}},
  {"mark":{"type":"tick","orient":"horizontal","size":9,"thickness":1,"color":"black"},"encoding":{"x":{"field":"d","type":"nominal"},"y":{"field":"lo","type":"quantitative"}}},
  {"mark":{"type":"tick","orient":"horizontal","size":9,"thickness":1,"color":"black"},"encoding":{"x":{"field":"d","type":"nominal"},"y":{"field":"hi","type":"quantitative"}}},
  {"data":{"values":[{}]},"mark":{"type":"text","text":"*","fontSize":15},"encoding":{"x":{"datum":"adenosine"},"y":{"datum":99}}}
 ]}]}]},
{"bounds":"flush","spacing":0,"hconcat":[{"width":373,"height":1,"mark":"point","data":{"values":[]}},{"bounds":"flush","spacing":0,"vconcat":[{"width":1,"height":339,"mark":"point","data":{"values":[]}},
 {"width":48,"height":120,"data":{"name":"e2"},"layer":[
  {"mark":{"type":"bar","fill":"white","stroke":"black","strokeWidth":1},"encoding":{"x":{"field":"d","type":"nominal","scale":{"domain":["adenosine"],"paddingInner":0,"paddingOuter":0.82},"axis":{"title":null,"domain":false,"ticks":false,"labelAngle":-45,"labelAlign":"right","labelBaseline":"top","labelPadding":1,"labelFontSize":10}},"y":{"field":"m","type":"quantitative","scale":{"domain":[0,101],"nice":false},"axis":{"values":[0,25,50,75,100],"tickCount":30,"labelOverlap":false,"title":"EPSC (%)","titlePadding":4}}}},
  {"mark":{"type":"rule","color":"black"},"encoding":{"x":{"field":"d","type":"nominal"},"y":{"field":"lo","type":"quantitative"},"y2":{"field":"hi"}}},
  {"mark":{"type":"tick","orient":"horizontal","size":9,"thickness":1,"color":"black"},"encoding":{"x":{"field":"d","type":"nominal"},"y":{"field":"lo","type":"quantitative"}}},
  {"mark":{"type":"tick","orient":"horizontal","size":9,"thickness":1,"color":"black"},"encoding":{"x":{"field":"d","type":"nominal"},"y":{"field":"hi","type":"quantitative"}}}
 ]}]}]},
{"bounds":"flush","spacing":0,"hconcat":[{"width":484,"height":1,"mark":"point","data":{"values":[]}},{"bounds":"flush","spacing":0,"vconcat":[{"width":1,"height":337,"mark":"point","data":{"values":[]}},
 {"width":133,"height":114,"layer":[
  {"data":{"name":"f"},"mark":{"type":"point","shape":"circle","filled":true,"fill":"white","stroke":"black","strokeWidth":1.2,"size":40,"opacity":1},"encoding":{"x":{"field":"x","type":"quantitative","scale":{"domain":[0,0.4],"nice":false,"zero":false},"axis":{"values":[0,0.1,0.2,0.3,0.4],"tickCount":30,"labelOverlap":false,"format":"~g","title":null}},"y":{"field":"y","type":"quantitative","scale":{"domain":[0,0.4],"nice":false,"zero":false},"axis":{"values":[0,0.1,0.2,0.3,0.4],"tickCount":30,"labelOverlap":false,"format":"~g","title":null}}}},
  {"data":{"values":[{}]},"mark":{"type":"rule","color":"black","strokeDash":[3,2],"strokeWidth":1},"encoding":{"x":{"datum":0},"y":{"datum":0},"x2":{"datum":0.4},"y2":{"datum":0.4}}},
  {"data":{"values":[{}]},"mark":{"type":"text","text":"F","fontSize":13,"fontStyle":"italic"},"encoding":{"x":{"datum":-0.108},"y":{"datum":0.655}}},
  {"data":{"values":[{}]},"mark":{"type":"text","text":"CV","fontSize":11,"angle":270,"align":"left","baseline":"middle"},"encoding":{"x":{"datum":-0.123},"y":{"datum":0.025}}},
  {"data":{"values":[{}]},"mark":{"type":"text","text":"2","fontSize":7,"angle":270,"align":"left","baseline":"middle"},"encoding":{"x":{"datum":-0.135},"y":{"datum":0.078}}},
  {"data":{"values":[{}]},"mark":{"type":"text","text":"control","fontSize":7,"angle":270,"align":"left","baseline":"middle"},"encoding":{"x":{"datum":-0.11},"y":{"datum":0.08}}},
  {"data":{"values":[{}]},"mark":{"type":"text","text":"/ CV","fontSize":11,"angle":270,"align":"left","baseline":"middle"},"encoding":{"x":{"datum":-0.123},"y":{"datum":0.16}}},
  {"data":{"values":[{}]},"mark":{"type":"text","text":"2","fontSize":7,"angle":270,"align":"left","baseline":"middle"},"encoding":{"x":{"datum":-0.135},"y":{"datum":0.238}}},
  {"data":{"values":[{}]},"mark":{"type":"text","text":"adenosine","fontSize":7,"angle":270,"align":"left","baseline":"middle"},"encoding":{"x":{"datum":-0.11},"y":{"datum":0.24}}},
  {"data":{"values":[{}]},"mark":{"type":"text","text":"mean","fontSize":11,"align":"left","baseline":"middle"},"encoding":{"x":{"datum":0.018},"y":{"datum":-0.082}}},
  {"data":{"values":[{}]},"mark":{"type":"text","text":"adenosine","fontSize":7,"align":"left","baseline":"middle"},"encoding":{"x":{"datum":0.1},"y":{"datum":-0.094}}},
  {"data":{"values":[{}]},"mark":{"type":"text","text":"/ mean","fontSize":11,"align":"left","baseline":"middle"},"encoding":{"x":{"datum":0.2},"y":{"datum":-0.082}}},
  {"data":{"values":[{}]},"mark":{"type":"text","text":"control","fontSize":7,"align":"left","baseline":"middle"},"encoding":{"x":{"datum":0.302},"y":{"datum":-0.094}}}
 ]}]}]}
]
}
